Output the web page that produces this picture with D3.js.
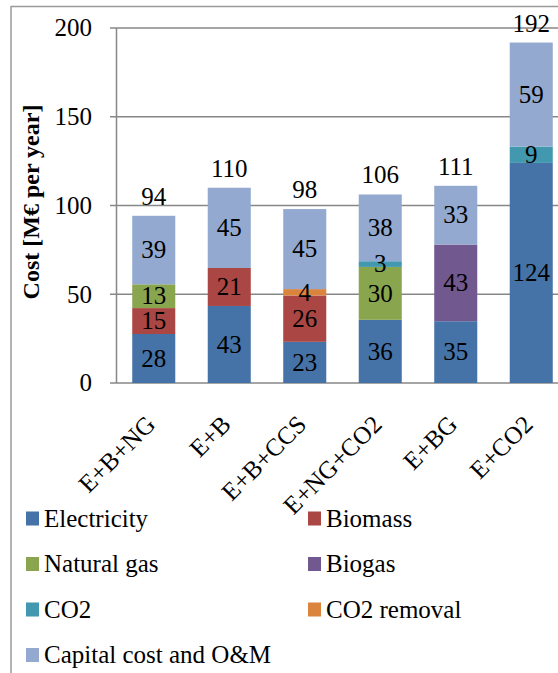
<!DOCTYPE html>
<html>
<head>
<meta charset="utf-8">
<script src="https://cdn.jsdelivr.net/npm/d3@7"></script>
</head>
<body style="margin:0">
<div id="chart"></div>
<script>
// scenarios on the x axis
const scenarios = ["E+B+NG", "E+B", "E+B+CCS", "E+NG+CO2", "E+BG", "E+CO2"];

// cost components, M€ per year
const electricity = [27.6, 43.4, 23.2, 35.6, 34.8, 124.0];
const biomass     = [14.6, 21.4, 26.1, 0, 0, 0];
const naturalGas  = [13.4, 0, 0, 29.8, 0, 0];
const biogas      = [0, 0, 0, 0, 43.2, 0];
const co2         = [0, 0, 0, 3.2, 0, 9.2];
const co2Removal  = [0, 0, 3.6, 0, 0, 0];
const capital     = [38.6, 45.2, 45.1, 37.6, 33.1, 58.6];

const seriesNames = ["Electricity", "Biomass", "Natural gas", "Biogas", "CO2", "CO2 removal", "Capital cost and O&M"];
const seriesValues = [electricity, biomass, naturalGas, biogas, co2, co2Removal, capital];
const seriesColors = ["#4572A7", "#AA4643", "#89A54E", "#71588F", "#4198AF", "#DB843D", "#93A9CF"];
const yTicks = [0, 50, 100, 150, 200];

const W = 558, H = 673;
const FONT = "'Liberation Serif', 'Times New Roman', serif";

const svg = d3.select("#chart").append("svg")
  .attr("width", W)
  .attr("height", H);

// frame of the chart area
svg.append("line").attr("x1", 11).attr("x2", W).attr("y1", 6.5).attr("y2", 6.5)
  .attr("stroke", "#9a9a9a").attr("stroke-width", 1.5);
svg.append("line").attr("x1", 11).attr("x2", 11).attr("y1", 6).attr("y2", H)
  .attr("stroke", "#9a9a9a").attr("stroke-width", 1.5);

// build table for the stack
const table = scenarios.map(function(s, i) {
  const row = { scenario: s };
  seriesNames.forEach(function(n, k) { row[n] = seriesValues[k][i]; });
  return row;
});

const x = d3.scaleBand()
  .domain(scenarios)
  .range([116, 569])
  .paddingInner(0.43)
  .paddingOuter(0.215);

const y = d3.scaleLinear()
  .domain([0, 200])
  .range([383, 28]);

// gridlines + ticks
svg.append("g")
  .selectAll("line")
  .data(yTicks)
  .enter()
  .append("line")
  .attr("x1", 110)
  .attr("x2", W)
  .attr("y1", d => y(d))
  .attr("y2", d => y(d))
  .attr("stroke", "#878787")
  .attr("stroke-width", 1.5);

svg.append("line")
  .attr("x1", 116.5).attr("x2", 116.5)
  .attr("y1", y(200)).attr("y2", y(0))
  .attr("stroke", "#878787").attr("stroke-width", 1.5);

svg.append("g")
  .selectAll("text")
  .data(yTicks)
  .enter()
  .append("text")
  .attr("x", 92)
  .attr("y", d => y(d))
  .attr("dy", "0.33em")
  .attr("text-anchor", "end")
  .style("font-family", FONT)
  .style("font-size", "25px")
  .text(d => d);

// y axis title
svg.append("text")
  .attr("transform", "translate(39,202) rotate(-90)")
  .attr("text-anchor", "middle")
  .style("font-family", FONT)
  .style("font-size", "24px")
  .style("font-weight", "bold")
  .text("Cost [M€ per year]");

// stacked bars
const stack = d3.stack().keys(seriesNames);
const layers = stack(table);

svg.append("g")
  .selectAll("g")
  .data(layers)
  .enter()
  .append("g")
  .attr("fill", (d, i) => seriesColors[i])
  .selectAll("rect")
  .data(d => d.filter(p => p[1] - p[0] > 0))
  .enter()
  .append("rect")
  .attr("x", d => x(d.data.scenario))
  .attr("width", x.bandwidth())
  .attr("y", d => y(d[1]))
  .attr("height", d => y(d[0]) - y(d[1]));

// segment labels (drawn after all bars so thin segments keep their number on top)
svg.append("g")
  .selectAll("text")
  .data(layers.flatMap(l => l.filter(p => p[1] - p[0] > 0)))
  .enter()
  .append("text")
  .attr("x", d => x(d.data.scenario) + x.bandwidth() / 2)
  .attr("y", d => (y(d[0]) + y(d[1])) / 2)
  .attr("dy", "0.33em")
  .attr("text-anchor", "middle")
  .style("font-family", FONT)
  .style("font-size", "25px")
  .text(d => Math.round(d[1] - d[0]));

// totals above bars
svg.append("g")
  .selectAll("text")
  .data(table)
  .enter()
  .append("text")
  .attr("x", d => x(d.scenario) + x.bandwidth() / 2)
  .attr("y", d => y(d3.sum(seriesNames, n => d[n])) - 11)
  .attr("text-anchor", "middle")
  .style("font-family", FONT)
  .style("font-size", "25px")
  .text(d => Math.round(d3.sum(seriesNames, n => d[n])));

// rotated category labels
svg.append("g")
  .selectAll("text")
  .data(scenarios)
  .enter()
  .append("text")
  .attr("transform", d => "translate(" + (x(d) + x.bandwidth() / 2 + 3) + ",426) rotate(-45)")
  .attr("text-anchor", "end")
  .style("font-family", FONT)
  .style("font-size", "25px")
  .text(d => d);

// legend
const legend = svg.append("g")
  .selectAll("g")
  .data(seriesNames)
  .enter()
  .append("g")
  .attr("transform", (d, i) => "translate(" + (i % 2 === 0 ? 26 : 308) + "," + (526.5 + Math.floor(i / 2) * 45.5) + ")");

legend.append("rect")
  .attr("x", 0)
  .attr("y", -15)
  .attr("width", 13)
  .attr("height", 14)
  .attr("fill", (d, i) => seriesColors[i]);

legend.append("text")
  .attr("x", 18)
  .attr("y", 0)
  .style("font-family", FONT)
  .style("font-size", "25px")
  .text(d => d);
</script>
</body>
</html>
